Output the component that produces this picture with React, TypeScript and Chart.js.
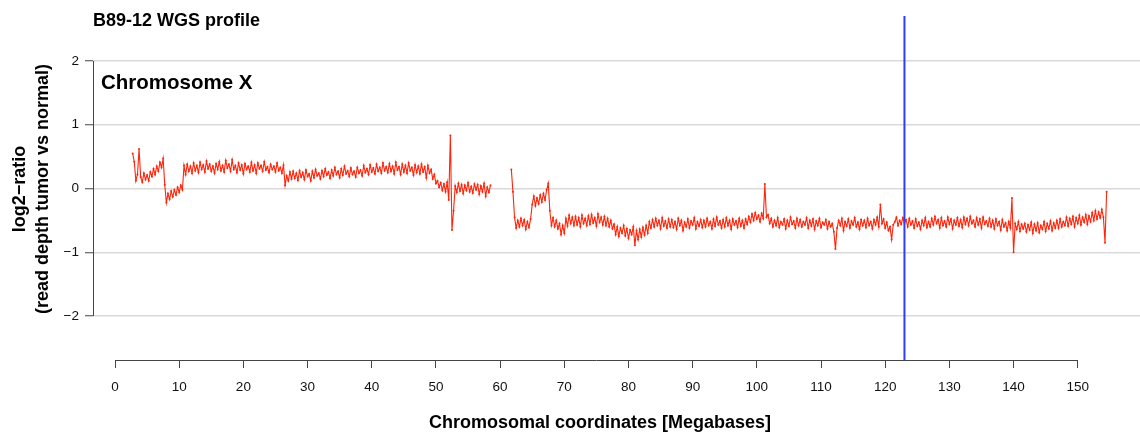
import React, { useEffect, useRef } from "react";
import { Chart, registerables } from "chart.js";

Chart.register(...registerables);

// ---- data (log2 ratio per 0.25 Mb bin) ----
const binSizeMb = 0.25;
const pArmStartMb = 2.75;
const pArmLog2 = [
  0.55, 0.42, 0.12, 0.22, 0.62, 0.18, 0.10, 0.24, 0.14, 0.21, 0.12, 0.26, 0.19, 0.31, 0.22, 0.35, 0.27, 0.41, 0.33, 0.47,
  0.06, -0.22, -0.08, -0.17, -0.04, -0.13, -0.02, -0.10, 0.02, -0.06, 0.05, -0.02, 0.36, 0.22, 0.38, 0.27, 0.35, 0.24, 0.40, 0.28,
  0.36, 0.25, 0.41, 0.30, 0.37, 0.26, 0.43, 0.31, 0.38, 0.27, 0.35, 0.24, 0.39, 0.30, 0.42, 0.28, 0.36, 0.26, 0.44, 0.32,
  0.38, 0.27, 0.45, 0.30, 0.36, 0.25, 0.40, 0.29, 0.37, 0.23, 0.39, 0.30, 0.35, 0.26, 0.41, 0.28, 0.37, 0.24, 0.40, 0.31,
  0.36, 0.27, 0.42, 0.29, 0.34, 0.25, 0.38, 0.30, 0.35, 0.26, 0.40, 0.28, 0.33, 0.24, 0.37, 0.05, 0.20, 0.12, 0.26, 0.15,
  0.27, 0.16, 0.24, 0.13, 0.28, 0.18, 0.25, 0.14, 0.29, 0.19, 0.23, 0.12, 0.27, 0.17, 0.30, 0.20, 0.24, 0.15, 0.28, 0.19,
  0.31, 0.21, 0.26, 0.16, 0.29, 0.20, 0.33, 0.22, 0.27, 0.17, 0.31, 0.21, 0.35, 0.23, 0.28, 0.19, 0.32, 0.22, 0.27, 0.18,
  0.33, 0.24, 0.29, 0.20, 0.36, 0.25, 0.31, 0.22, 0.37, 0.26, 0.32, 0.23, 0.38, 0.27, 0.33, 0.24, 0.40, 0.28, 0.34, 0.25,
  0.39, 0.27, 0.35, 0.23, 0.41, 0.29, 0.34, 0.22, 0.38, 0.26, 0.36, 0.24, 0.40, 0.28, 0.33, 0.21, 0.37, 0.25, 0.35, 0.23,
  0.38, 0.26, 0.34, 0.17, 0.36, 0.24, 0.30, 0.15, 0.22, 0.08, 0.12, 0.02, 0.09, -0.03, 0.07, -0.05, 0.10, -0.18, 0.83, -0.65,
  -0.35, 0.04, -0.06, 0.08, -0.04, 0.06, -0.08, 0.05, -0.03, 0.09, -0.05, 0.03, -0.07, 0.07, -0.02, 0.06, -0.09, 0.04, -0.05, 0.08,
  -0.12, 0.02, -0.06, 0.05,
];

const qArmStartMb = 61.75;
const qArmLog2 = [
  0.30, -0.05, -0.45, -0.62, -0.50, -0.60, -0.47, -0.58, -0.49, -0.64, -0.52, -0.61, -0.48, -0.25, -0.12, -0.27, -0.15, -0.24, -0.10, -0.21,
  -0.08, -0.18, -0.02, 0.08, -0.35, -0.58, -0.46, -0.60, -0.50, -0.63, -0.55, -0.72, -0.58, -0.70, -0.47, -0.59, -0.42, -0.55, -0.45, -0.58,
  -0.44, -0.57, -0.46, -0.60, -0.42, -0.55, -0.47, -0.58, -0.43, -0.56, -0.41, -0.54, -0.46, -0.59, -0.40, -0.53, -0.45, -0.57, -0.44, -0.58,
  -0.47, -0.60, -0.50, -0.63, -0.56, -0.72, -0.60, -0.75, -0.62, -0.70, -0.58, -0.74, -0.63, -0.78, -0.65, -0.72, -0.60, -0.89, -0.66, -0.80,
  -0.64, -0.76, -0.61, -0.73, -0.58, -0.70, -0.52, -0.62, -0.49, -0.60, -0.47, -0.58, -0.50, -0.63, -0.46, -0.59, -0.51, -0.62, -0.48, -0.60,
  -0.49, -0.61, -0.52, -0.64, -0.47, -0.58, -0.50, -0.66, -0.53, -0.60, -0.48, -0.62, -0.51, -0.57, -0.46, -0.63, -0.52, -0.59, -0.49, -0.61,
  -0.50, -0.60, -0.47, -0.58, -0.52, -0.63, -0.48, -0.59, -0.45, -0.57, -0.51, -0.62, -0.49, -0.60, -0.46, -0.58, -0.50, -0.64, -0.48, -0.57,
  -0.51, -0.61, -0.47, -0.59, -0.50, -0.62, -0.48, -0.56, -0.44, -0.53, -0.40, -0.50, -0.38, -0.48, -0.42, -0.52, -0.39, -0.47, 0.07, -0.45,
  -0.41, -0.55, -0.47, -0.60, -0.50, -0.58, -0.46, -0.61, -0.52, -0.57, -0.48, -0.63, -0.50, -0.59, -0.45, -0.56, -0.51, -0.62, -0.47, -0.58,
  -0.49, -0.60, -0.52, -0.57, -0.46, -0.62, -0.50, -0.59, -0.48, -0.64, -0.51, -0.58, -0.47, -0.61, -0.53, -0.57, -0.49, -0.63, -0.52, -0.60,
  -0.55, -0.68, -0.95, -0.62, -0.50, -0.58, -0.47, -0.66, -0.52, -0.59, -0.48, -0.62, -0.51, -0.57, -0.46, -0.60, -0.53, -0.64, -0.49, -0.58,
  -0.50, -0.61, -0.47, -0.58, -0.52, -0.63, -0.49, -0.57, -0.45, -0.60, -0.25, -0.55, -0.48, -0.62, -0.53, -0.66, -0.60, -0.80, -0.57, -0.52,
  -0.45, -0.58, -0.50, -0.56, -0.46, -0.54, -0.49, -0.60, -0.47, -0.57, -0.51, -0.62, -0.48, -0.59, -0.53, -0.64, -0.50, -0.58, -0.46, -0.61,
  -0.52, -0.60, -0.47, -0.57, -0.44, -0.55, -0.49, -0.62, -0.46, -0.58, -0.51, -0.60, -0.45, -0.56, -0.48, -0.63, -0.50, -0.57, -0.46, -0.59,
  -0.49, -0.61, -0.45, -0.56, -0.47, -0.58, -0.44, -0.55, -0.50, -0.60, -0.46, -0.57, -0.48, -0.62, -0.45, -0.56, -0.51, -0.59, -0.47, -0.60,
  -0.50, -0.63, -0.48, -0.58, -0.52, -0.65, -0.49, -0.60, -0.54, -0.66, -0.52, -0.62, -0.15, -1.00, -0.55, -0.64, -0.52, -0.67, -0.56, -0.63,
  -0.55, -0.68, -0.57, -0.65, -0.53, -0.70, -0.56, -0.66, -0.54, -0.69, -0.58, -0.64, -0.52, -0.67, -0.55, -0.63, -0.51, -0.66, -0.54, -0.62,
  -0.50, -0.62, -0.48, -0.60, -0.52, -0.58, -0.45, -0.59, -0.47, -0.56, -0.44, -0.60, -0.46, -0.55, -0.42, -0.57, -0.45, -0.53, -0.41, -0.56,
  -0.43, -0.52, -0.38, -0.50, -0.35, -0.48, -0.37, -0.46, -0.33, -0.45, -0.85, -0.05,
];

const xTickValues = [0, 10, 20, 30, 40, 50, 60, 70, 80, 90, 100, 110, 120, 130, 140, 150];
const yTickValues = [-2, -1, 0, 1, 2];
const markerMb = 123;

const chartTitle = "B89-12 WGS profile";
const panelLabel = "Chromosome X";
const xTitle = "Chromosomal coordinates [Megabases]";
const yTitleLines = ["log2\u2212ratio", "(read depth tumor vs normal)"];

const FONT = '"Liberation Sans", Arial, Helvetica, sans-serif';
const RED = "rgb(255,36,10)";

function toPoints(start: number, values: number[]) {
  return values.map((v, i) => ({ x: start + i * binSizeMb, y: v }));
}

const decorPlugin = {
  id: "decor",
  afterDatasetsDraw(chart: any) {
    const { ctx, chartArea, scales } = chart;
    const xs = scales.x;
    ctx.save();
    const mx = xs.getPixelForValue(markerMb);
    ctx.strokeStyle = "#2b3dff";
    ctx.lineWidth = 2;
    ctx.beginPath();
    ctx.moveTo(mx, chartArea.top);
    ctx.lineTo(mx, chartArea.bottom);
    ctx.stroke();
    ctx.restore();
  },
  afterDraw(chart: any) {
    const { ctx, chartArea, scales } = chart;
    const xs = scales.x;
    const ys = scales.y;
    ctx.save();
    ctx.strokeStyle = "#444";
    ctx.lineWidth = 1;
    const ax = Math.round(chartArea.left) + 0.5;
    ctx.beginPath();
    ctx.moveTo(ax, ys.getPixelForValue(yTickValues[yTickValues.length - 1]));
    ctx.lineTo(ax, ys.getPixelForValue(yTickValues[0]));
    ctx.stroke();
    const by = Math.round(chartArea.bottom) + 0.5;
    ctx.beginPath();
    ctx.moveTo(xs.getPixelForValue(xTickValues[0]), by);
    ctx.lineTo(xs.getPixelForValue(xTickValues[xTickValues.length - 1]), by);
    ctx.stroke();

    ctx.fillStyle = "#000";
    ctx.textBaseline = "alphabetic";
    ctx.textAlign = "left";
    ctx.font = `bold 18px ${FONT}`;
    ctx.fillText(chartTitle, 93, 26);
    ctx.font = `bold 20.5px ${FONT}`;
    ctx.fillText(panelLabel, 101, 89);
    ctx.textAlign = "center";
    ctx.font = `bold 18px ${FONT}`;
    ctx.fillText(xTitle, 600, 428);

    ctx.translate(0, 189);
    ctx.rotate(-Math.PI / 2);
    ctx.textBaseline = "middle";
    ctx.fillText(yTitleLines[0], 0, 20);
    ctx.fillText(yTitleLines[1], 0, 43);
    ctx.restore();
  },
};

export default function App() {
  const ref = useRef<HTMLCanvasElement | null>(null);
  useEffect(() => {
    document.body.style.margin = "0";
    const canvas = ref.current;
    if (!canvas) return;
    const seriesStyle = {
      showLine: true,
      borderColor: RED,
      borderWidth: 1.1,
      pointRadius: 1,
      pointBorderWidth: 0,
      pointBackgroundColor: RED,
    };
    const chart = new Chart(canvas, {
      type: "scatter",
      data: {
        datasets: [
          { data: toPoints(pArmStartMb, pArmLog2), ...seriesStyle },
          { data: toPoints(qArmStartMb, qArmLog2), ...seriesStyle },
        ],
      },
      options: {
        responsive: false,
        animation: false,
        devicePixelRatio: 1,
        layout: { autoPadding: false, padding: { top: 16, left: 0, right: 0, bottom: 0 } },
        plugins: { legend: { display: false }, tooltip: { enabled: false }, title: { display: false } },
        scales: {
          x: {
            type: "linear",
            position: "bottom",
            min: -3.43,
            max: 159.7,
            afterBuildTicks: (axis: any) => {
              axis.ticks = xTickValues.map((v) => ({ value: v }));
            },
            afterFit: (axis: any) => {
              axis.height = 74;
            },
            border: { display: false },
            grid: {
              drawOnChartArea: false,
              drawTicks: true,
              tickLength: 8,
              tickColor: "#444",
              tickWidth: 1,
            },
            ticks: {
              autoSkip: false,
              maxRotation: 0,
              padding: 11,
              color: "#111",
              font: { family: FONT, size: 13.5 },
              callback: (v: any) => String(v),
            },
          },
          y: {
            type: "linear",
            position: "left",
            min: -2.69,
            max: 2.706,
            afterBuildTicks: (axis: any) => {
              axis.ticks = yTickValues.map((v) => ({ value: v }));
            },
            afterFit: (axis: any) => {
              axis.width = 93;
            },
            border: { display: false },
            grid: {
              drawOnChartArea: true,
              color: "#d9d9d9",
              lineWidth: 1.5,
              drawTicks: true,
              tickLength: 8,
              tickColor: "#444",
              tickWidth: 1,
            },
            ticks: {
              padding: 6,
              color: "#111",
              font: { family: FONT, size: 13.5 },
              callback: (v: any) => String(v).replace("-", "\u2212"),
            },
          },
        },
      },
      plugins: [decorPlugin],
    });
    return () => chart.destroy();
  }, []);
  return (
    <div style={{ width: 1140, height: 434 }}>
      <canvas ref={ref} width={1140} height={434} style={{ display: "block" }} />
    </div>
  );
}
